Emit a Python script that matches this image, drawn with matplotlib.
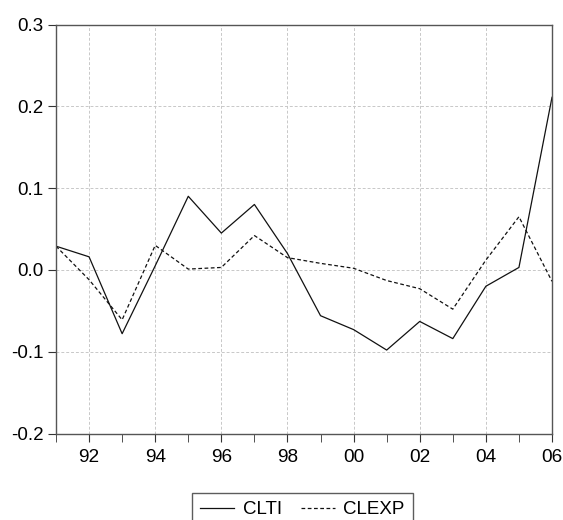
import matplotlib
matplotlib.use("Agg")
import matplotlib.pyplot as plt
from matplotlib.ticker import FixedLocator, NullFormatter

years = list(range(1991, 2007))
clti = [0.029, 0.016, -0.078, 0.005, 0.090, 0.045, 0.080, 0.020,
        -0.056, -0.073, -0.098, -0.063, -0.084, -0.020, 0.003, 0.211]
clexp = [0.029, -0.012, -0.061, 0.030, 0.001, 0.003, 0.042, 0.015,
         0.008, 0.002, -0.013, -0.023, -0.048, 0.012, 0.065, -0.014]
xtick_years = [1992, 1994, 1996, 1998, 2000, 2002, 2004, 2006]
xtick_labels = ["92", "94", "96", "98", "00", "02", "04", "06"]
yticks = [-0.2, -0.1, 0.0, 0.1, 0.2, 0.3]
ytick_labels = ["-0.2", "-0.1", "0.0", "0.1", "0.2", "0.3"]

plt.rcParams['font.family'] = ['Liberation Sans', 'DejaVu Sans']

fig = plt.figure(figsize=(5.63, 5.20), dpi=100)
ax = fig.add_axes([56/563, 1 - 433.5/520, (552-56)/563, (433.5-24.5)/520])

ax.plot(years, clti, color='#111111', lw=0.9, ls='-', label='CLTI')
ax.plot(years, clexp, color='#111111', lw=0.9, ls=(0, (3, 2)), label='CLEXP')

ax.set_xlim(1991, 2006)
ax.set_ylim(-0.2, 0.3)
ax.set_xticks(xtick_years)
ax.set_xticklabels(xtick_labels, fontsize=13.7)
ax.xaxis.set_minor_locator(FixedLocator(years))
ax.xaxis.set_minor_formatter(NullFormatter())
ax.set_yticks(yticks)
ax.set_yticklabels(ytick_labels, fontsize=13.5)

ax.grid(True, which='major', color='#c8c8c8', ls=(0, (3, 2)), lw=0.7)
for s in ax.spines.values():
    s.set_color('#555555')
    s.set_linewidth(1.0)
ax.tick_params(axis='both', which='both', direction='out', length=6,
               color='#333333')
ax.tick_params(axis='x', pad=5)
ax.tick_params(axis='y', pad=3)

leg = fig.legend(loc='center', bbox_to_anchor=(302.5/563, 1 - 509.5/520),
                 ncol=2, frameon=True, fancybox=False, fontsize=13.5,
                 handlelength=1.8, handletextpad=0.48,
                 columnspacing=1.0, borderpad=0.45, borderaxespad=0,
                 edgecolor='#333333')
leg.get_frame().set_linewidth(1.0)

fig.savefig('out.png', dpi=100, facecolor='white')
